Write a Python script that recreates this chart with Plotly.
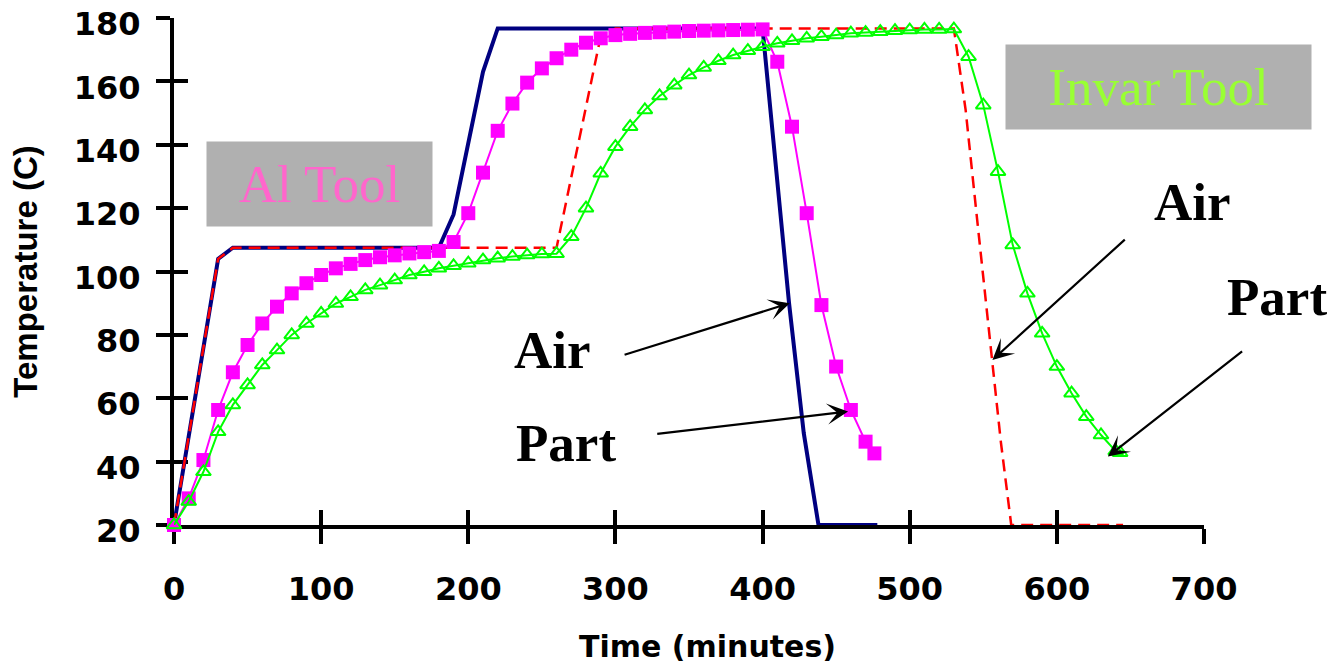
import plotly.graph_objects as go

# ---------------- data ----------------
al_air_time = [0, 30, 40, 180, 190, 210, 220, 400, 418, 428, 438, 478]
al_air_temp = [20, 104, 107.5, 107.5, 118, 163, 176.7, 176.7, 90, 49, 20, 20]

invar_air_time = [0, 30, 40, 260, 289, 300, 530, 538, 545, 551, 556, 562, 569, 645]
invar_air_temp = [20, 104, 107.5, 107.5, 172, 176.7, 176.7, 151, 120, 93, 72, 46, 20, 20]

al_part_time = [0, 10, 20, 30, 40, 50, 60, 70, 80, 90, 100, 110, 120, 130, 140, 150,
                160, 170, 180, 190, 200, 210, 220, 230, 240, 250, 260, 270, 280, 290,
                300, 310, 320, 330, 340, 350, 360, 370, 380, 390, 400, 410, 420, 430,
                440, 450, 460, 470, 476]
al_part_temp = [20, 28.4, 40.5, 56.3, 68.2, 76.8, 83.6, 88.9, 93.1, 96.3, 98.9, 101,
                102.4, 103.6, 104.5, 105.1, 105.7, 106.1, 106.5, 109.3, 118.4, 131.2,
                144.4, 153, 159.6, 164.1, 167.3, 170, 172.2, 173.6, 174.6, 175.0, 175.3,
                175.5, 175.7, 175.9, 176.0, 176.1, 176.2, 176.3, 176.4, 166.2, 145.7,
                118.4, 89.4, 70, 56.3, 46.3, 42.6]

invar_part_time = [0, 10, 20, 30, 40, 50, 60, 70, 80, 90, 100, 110, 120, 130, 140, 150,
                   160, 170, 180, 190, 200, 210, 220, 230, 240, 250, 260, 270, 280, 290,
                   300, 310, 320, 330, 340, 350, 360, 370, 380, 390, 400, 410, 420, 430,
                   440, 450, 460, 470, 480, 490, 500, 510, 520, 530, 540, 550, 560, 570,
                   580, 590, 600, 610, 620, 630, 640, 643]
invar_part_temp = [20, 27.4, 36.8, 49.4, 57.9, 64.2, 70.5, 75.2, 80, 83.6, 86.8, 89.9,
                   92, 94.2, 95.7, 97.3, 98.9, 99.9, 101, 101.8, 102.6, 103.6, 104.2,
                   104.7, 105.2, 105.5, 105.6, 111, 120, 131, 139.4, 145.7, 151, 155.4,
                   158.8, 162, 164.4, 166.5, 168.3, 169.7, 170.9, 172, 172.8, 173.6,
                   174.1, 174.6, 175.2, 175.4, 175.7, 176, 176.2, 176.4, 176.4, 176.5,
                   167.8, 152.5, 131.5, 108.4, 93.1, 80.5, 70, 61.6, 54.2, 48.4, 43.3, 42.8]

x_ticks = [0, 100, 200, 300, 400, 500, 600, 700]
y_ticks = [20, 40, 60, 80, 100, 120, 140, 160, 180]
x_title = "Time (minutes)"
y_title = "Temperature (C)"

# ---------------- figure ----------------
fig = go.Figure()

fig.add_trace(go.Scatter(x=al_air_time, y=al_air_temp, mode="lines", name="Al Tool Air",
                         line=dict(color="#000080", width=4), cliponaxis=False,
                         showlegend=False))
fig.add_trace(go.Scatter(x=invar_air_time, y=invar_air_temp, mode="lines", name="Invar Tool Air",
                         line=dict(color="#ff0000", width=2.5, dash="12px,7px"),
                         cliponaxis=False, showlegend=False))
fig.add_trace(go.Scatter(x=al_part_time, y=al_part_temp, mode="lines+markers", name="Al Tool Part",
                         line=dict(color="#ff00ff", width=2),
                         marker=dict(symbol="square", size=14, color="#ff00ff"),
                         cliponaxis=False, showlegend=False))
fig.add_trace(go.Scatter(x=invar_part_time, y=invar_part_temp, mode="lines+markers",
                         name="Invar Tool Part",
                         line=dict(color="#00ff00", width=2),
                         marker=dict(symbol="triangle-up-open", size=13, color="#00ff00",
                                     line=dict(width=2, color="#00ff00")),
                         cliponaxis=False, showlegend=False))
# empty trace carrying the overlay axes (inner half of the crossing tick marks)
fig.add_trace(go.Scatter(x=[], y=[], xaxis="x2", yaxis="y2", showlegend=False,
                         hoverinfo="skip"))

tick_font = dict(family="DejaVu Sans", size=32, color="black", weight="bold")

fig.update_layout(
    width=1332, height=667,
    margin=dict(l=174, r=128, t=18, b=142, autoexpand=False),
    paper_bgcolor="white", plot_bgcolor="white",
    showlegend=False,
    xaxis=dict(range=[0, 700], tickvals=x_ticks, ticks="outside", ticklen=15,
               tickwidth=3.5, tickcolor="black", showline=True, linewidth=4,
               linecolor="black", showgrid=False, zeroline=False, tickfont=tick_font,
               ticklabelstandoff=18, ticklabeloverflow="allow", automargin=False,
               layer="below traces"),
    yaxis=dict(range=[20, 180], tickvals=y_ticks, ticks="outside", ticklen=14,
               tickwidth=3.5, tickcolor="black", showline=True, linewidth=4,
               linecolor="black", showgrid=False, zeroline=False, tickfont=tick_font,
               ticklabelstandoff=9, ticklabelshift=6, ticklabeloverflow="allow",
               automargin=False, layer="below traces",
               title=dict(text=y_title, standoff=27,
                          font=dict(family="Liberation Sans", size=33, color="black",
                                    weight="bold"))),
    xaxis2=dict(range=[0, 700], tickvals=x_ticks, ticks="inside", ticklen=15,
                tickwidth=3.5, tickcolor="black", showline=False, showgrid=False,
                zeroline=False, showticklabels=False, overlaying="x", anchor="y2",
                automargin=False, layer="below traces"),
    yaxis2=dict(range=[20, 180], tickvals=y_ticks, ticks="inside", ticklen=14,
                tickwidth=3.5, tickcolor="black", showline=False, showgrid=False,
                zeroline=False, showticklabels=False, overlaying="y", anchor="x2",
                automargin=False, layer="below traces"),
)

label_font = dict(family="Liberation Serif", size=53, color="black", weight="bold")
box_font = dict(family="Liberation Serif", size=53)

annotations = [
    # x axis title
    dict(x=0.5175, y=-0.2406, xref="paper", yref="paper", text=x_title, showarrow=False,
         xanchor="center", yanchor="middle",
         font=dict(family="DejaVu Sans", size=30, color="black", weight="bold")),
    # gray tool boxes
    dict(x=98.8, y=127.6, xref="x", yref="y", text="Al Tool", showarrow=False,
         xanchor="center", yanchor="middle",
         width=225, height=84, bgcolor="#b0b0b0", borderpad=0,
         font=dict(box_font, color="#ff66cc")),
    dict(x=669.3, y=158.1, xref="x", yref="y", text="Invar Tool", showarrow=False,
         xanchor="center", yanchor="middle",
         width=305, height=84, bgcolor="#b0b0b0", borderpad=0,
         font=dict(box_font, color="#99ff33")),
    # labels
    dict(x=257.5, y=75.1, xref="x", yref="y", text="Air", showarrow=False,
         xanchor="center", yanchor="middle", font=label_font),
    dict(x=266.5, y=46.0, xref="x", yref="y", text="Part", showarrow=False,
         xanchor="center", yanchor="middle", font=label_font),
    dict(x=691.9 / 700, y=(122 - 20) / 160, xref="paper", yref="paper", text="Air",
         showarrow=False, xanchor="center", yanchor="middle", font=label_font),
    dict(x=1.0704, y=0.4488, xref="paper", yref="paper", text="Part", showarrow=False,
         xanchor="center", yanchor="middle", font=label_font),
]
# arrows (head x,y ; tail ax,ay in data units)
arrows = [
    (418.5, 90.0, 305.2, 73.6),
    (458.1, 55.8, 327.4, 48.7),
    (556.2, 72.1, 647.2, 110.5),
    (634.7, 41.6, 726.9, 75.2),
]
for hx, hy, tx, ty in arrows:
    annotations.append(dict(x=hx, y=hy, ax=tx, ay=ty, xref="x", yref="y", axref="x",
                            ayref="y", text="", showarrow=True, arrowhead=3,
                            arrowsize=1.6, arrowwidth=2.2, arrowcolor="black"))

fig.update_layout(annotations=annotations)

fig.write_html("out.html", config={"displayModeBar": False},
               post_script="document.body.style.margin='0px';document.body.style.overflow='hidden';")
